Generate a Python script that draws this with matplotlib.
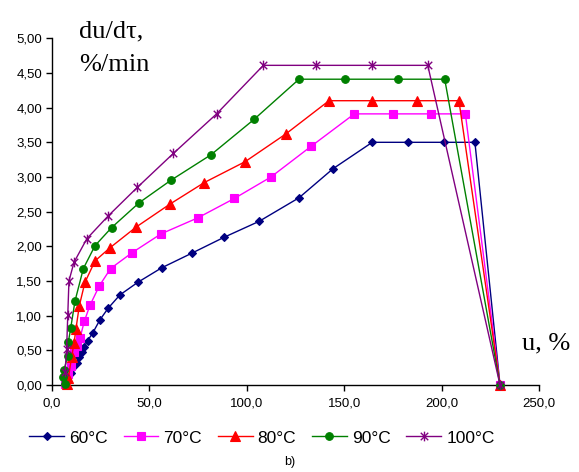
import matplotlib
matplotlib.use("Agg")
import matplotlib.pyplot as plt
from matplotlib.path import Path
from matplotlib.ticker import FuncFormatter

# ---- data ----
u_60 = [7.5, 9.6, 10.9, 12.7, 14.0, 15.2, 16.6, 18.3, 20.9, 24.6, 28.9, 34.9, 44.0, 56.3,
        71.7, 88.3, 106.3, 126.8, 144.3, 164.4, 182.6, 201.4, 217.1, 230.0]
v_60 = [0.08, 0.18, 0.26, 0.32, 0.40, 0.47, 0.55, 0.64, 0.75, 0.94, 1.11, 1.30, 1.48, 1.69,
        1.90, 2.13, 2.36, 2.70, 3.12, 3.50, 3.50, 3.50, 3.50, 0.0]

u_70 = [6.7, 8.4, 9.8, 11.3, 12.7, 14.4, 16.6, 19.5, 24.3, 30.1, 41.2, 56.0, 74.8, 93.6,
        112.4, 132.9, 155.2, 175.2, 194.6, 212.2, 230.0]
v_70 = [0.02, 0.16, 0.28, 0.47, 0.56, 0.68, 0.92, 1.15, 1.43, 1.68, 1.91, 2.18, 2.41, 2.69,
        3.00, 3.44, 3.91, 3.91, 3.91, 3.91, 0.0]

u_80 = [7.5, 8.4, 10.1, 11.3, 12.3, 14.0, 16.9, 22.1, 29.8, 43.3, 60.6, 78.2, 99.1, 120.0,
        142.2, 164.4, 187.2, 208.9, 230.0]
v_80 = [0.02, 0.10, 0.41, 0.60, 0.81, 1.14, 1.48, 1.79, 1.98, 2.28, 2.61, 2.92, 3.22, 3.62,
        4.10, 4.10, 4.10, 4.10, 0.0]

u_90 = [6.7, 5.8, 6.2, 8.1, 8.4, 9.6, 11.8, 16.1, 22.1, 30.6, 44.8, 60.9, 81.6, 103.7,
        126.8, 150.4, 177.5, 201.6, 230.0]
v_90 = [0.02, 0.12, 0.22, 0.42, 0.62, 0.82, 1.21, 1.68, 2.01, 2.27, 2.63, 2.95, 3.32, 3.83,
        4.41, 4.41, 4.41, 4.41, 0.0]

u_100 = [6.7, 7.5, 8.1, 8.7, 11.3, 17.9, 28.9, 43.8, 62.3, 84.5, 108.5, 135.4, 164.4, 192.9, 230.0]
v_100 = [0.19, 0.52, 1.01, 1.50, 1.77, 2.11, 2.44, 2.85, 3.34, 3.91, 4.61, 4.61, 4.61, 4.61, 0.0]

labels = ["60°C", "70°C", "80°C", "90°C", "100°C"]
x_ticks = [0, 50, 100, 150, 200, 250]
y_ticks = [0, 0.5, 1.0, 1.5, 2.0, 2.5, 3.0, 3.5, 4.0, 4.5, 5.0]

# Excel-style star: X plus vertical bar
star = Path([(-1, -1), (1, 1), (-1, 1), (1, -1), (0, -1.3), (0, 1.3)],
            [Path.MOVETO, Path.LINETO, Path.MOVETO, Path.LINETO, Path.MOVETO, Path.LINETO])

styles = [
    dict(color="#000080", marker="D", ms=4.5),
    dict(color="#FF00FF", marker="s", ms=5.5),
    dict(color="#FF0000", marker="^", ms=6.5),
    dict(color="#008000", marker="o", ms=5.5),
    dict(color="#800080", marker=star, ms=7, mew=1.0),
]

fig = plt.figure(figsize=(5.79, 4.72), dpi=100)
ax = fig.add_axes([52 / 579, 87 / 472, 487 / 579, (385 - 38.3) / 472])

series = [(u_60, v_60), (u_70, v_70), (u_80, v_80), (u_90, v_90), (u_100, v_100)]
handles = []
for (u, v), st, lab in zip(series, styles, labels):
    kw = dict(st)
    col = kw.pop("color")
    mk = kw.pop("marker")
    ms = kw.pop("ms")
    mew = kw.pop("mew", 0.8)
    line, = ax.plot(u, v, color=col, lw=1.0, marker=mk, markersize=ms,
                    markerfacecolor=col, markeredgecolor=col, markeredgewidth=mew,
                    label=lab, clip_on=False, zorder=3)
    handles.append(line)

ax.set_xlim(0, 250)
ax.set_ylim(0, 5)
ax.set_xticks(x_ticks)
ax.set_yticks(y_ticks)
ax.xaxis.set_major_formatter(FuncFormatter(lambda x, p: f"{x:.1f}".replace(".", ",")))
ax.yaxis.set_major_formatter(FuncFormatter(lambda y, p: f"{y:.2f}".replace(".", ",")))
for s in ["top", "right"]:
    ax.spines[s].set_visible(False)
for s in ["left", "bottom"]:
    ax.spines[s].set_linewidth(1.0)
    ax.spines[s].set_color("#000000")
ax.tick_params(axis="both", direction="out", length=4, width=1.0, colors="black",
               labelsize=9.5)
ax.tick_params(axis="y", pad=3)
ax.tick_params(axis="x", pad=5)
for t in ax.get_xticklabels() + ax.get_yticklabels():
    t.set_family("Liberation Sans")

fig.text(79 / 579, 1 - 37 / 472, "du/dτ,", family="Liberation Serif", fontsize=19,
         ha="left", va="baseline")
fig.text(79 / 579, 1 - 71 / 472, "%/min", family="Liberation Serif", fontsize=19,
         ha="left", va="baseline")
fig.text(522 / 579, 1 - 349 / 472, "u, %", family="Liberation Serif",
         fontsize=19, ha="left", va="baseline")

leg = fig.legend(handles=handles, loc="center", bbox_to_anchor=(262 / 579, 1 - 438 / 472),
                 ncol=5, frameon=False, prop=dict(family="Liberation Sans", size=12.5),
                 handlelength=2.0, handletextpad=0.3, columnspacing=0.9)
fig.text(290 / 579, 1 - 462 / 472, "b)", family="Liberation Sans", fontsize=9,
         ha="center", va="center")

fig.savefig("out.png", dpi=100)
